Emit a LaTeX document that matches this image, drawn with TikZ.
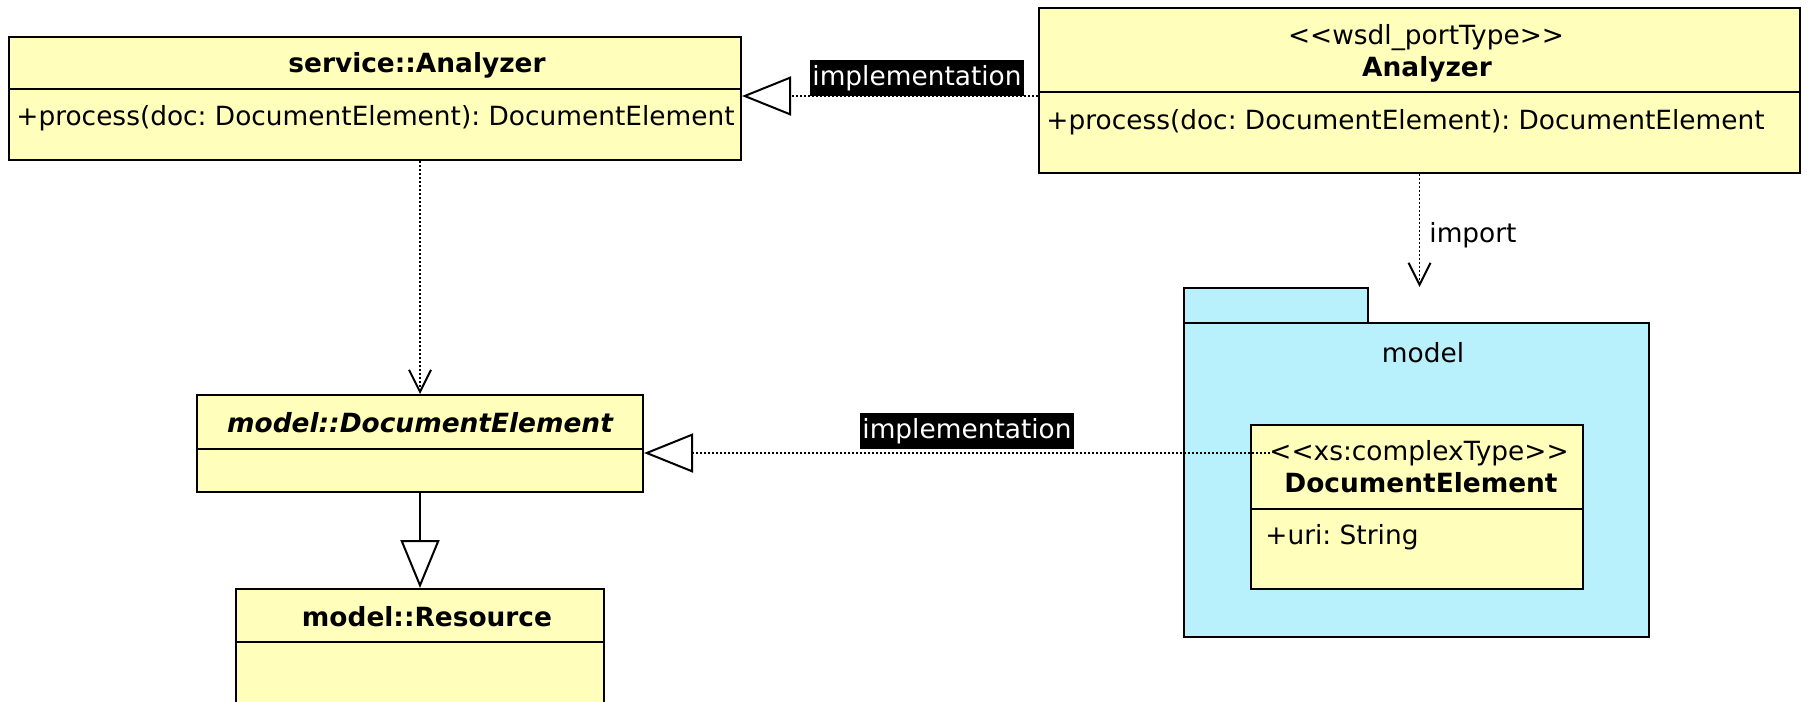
\documentclass[tikz,border=0pt]{standalone}
\usepackage{fontspec}
\setmainfont{DejaVu Sans}
\usetikzlibrary{arrows.meta,fit}

\definecolor{classfill}{HTML}{FFFFBB}
\definecolor{pkgfill}{HTML}{B8F0FC}

% stereotype brackets, kept apart so they are not joined into guillemets
\newcommand{\stl}{<\kern0pt<}
\newcommand{\str}{>\kern0pt>}
\newcommand{\umlfont}{\fontsize{13.2}{16}\selectfont\frenchspacing}

\tikzset{
  every node/.style={font=\umlfont, inner sep=0pt},
  border/.style={draw=black, line width=1pt},
  classbox/.style={border, fill=classfill, inner sep=0pt},
  pkgbox/.style={border, fill=pkgfill, inner sep=0pt},
  titletext/.style={font=\umlfont\bfseries},
  abstracttext/.style={font=\umlfont\bfseries\itshape},
  dotline/.style={line width=0.95pt, dash pattern=on 1pt off 1pt},
  depend/.style={dotline, -{Straight Barb[length=11pt,width=11pt,line width=1pt]}},
  realize/.style={dotline, -{Triangle[open,length=24.5pt,width=19.5pt,line width=1pt]}},
  general/.style={line width=1pt, -{Triangle[open,length=24pt,width=19.5pt,line width=1pt]}},
  taglabel/.style={fill=black, text=white, inner xsep=1pt, inner ysep=2.5pt}
}

\begin{document}
\begin{tikzpicture}[x=0.5pt, y=-0.5pt]
  \useasboundingbox (0,0) rectangle (1808,701);
  \fill[white] (0,0) rectangle (1808,701);
  \clip (0,0) rectangle (1808,701);

  % service::Analyzer
  \node[classbox, fit={(9,37) (741,160)}] (sa) {};
  \draw[border] (sa.west |- 0,89) -- (sa.east |- 0,89);
  \node[titletext] (satitle) at (417,65) {service::Analyzer};
  \node[anchor=west] (saop) at (16,118) {+process(doc: DocumentElement): DocumentElement};

  % <<wsdl_portType>> Analyzer
  \node[classbox, fit={(1039,8) (1800,173)}] (wa) {};
  \draw[border] (wa.west |- 0,92) -- (wa.east |- 0,92);
  \node (wastereo) at (1426,38) {\stl wsdl\_portType\str};
  \node[titletext] (watitle) at (1427,69) {Analyzer};
  \node[anchor=west] (waop) at (1046,122) {+process(doc: DocumentElement): DocumentElement};

  % model::DocumentElement
  \node[classbox, fit={(197,395) (643,492)}] (de) {};
  \draw[border] (de.west |- 0,449) -- (de.east |- 0,449);
  \node[abstracttext] (detitle) at (420,423) {model::DocumentElement};

  % model::Resource
  \node[classbox, fit={(236,589) (604,720)}] (res) {};
  \draw[border] (res.west |- 0,642) -- (res.east |- 0,642);
  \node[titletext] (restitle) at (427,617) {model::Resource};

  % package model
  \node[pkgbox, fit={(1184,288) (1368,323)}] (tab) {};
  \node[pkgbox, fit={(1184,323) (1649,637)}] (pkg) {};
  \node (pkgname) at (1423,353) {model};

  % <<xs:complexType>> DocumentElement
  \node[classbox, fit={(1251,425) (1583,589)}] (xs) {};
  \draw[border] (xs.west |- 0,509) -- (xs.east |- 0,509);
  \node (xsstereo) at (1419,453) {\stl xs:complexType\str};
  \node[titletext] (xstitle) at (1421,483) {DocumentElement};
  \node[anchor=west] (xsattr) at (1265,537) {+uri: String};

  % connectors
  \draw[depend] (de.north |- sa.south) -- (de.north);
  \draw[depend] (wa.south) -- (wa.south |- tab.north);
  \node[anchor=west] (importlbl) at (1429,235) {import};

  \draw[realize] (wa.west |- 0,96) -- (sa.east |- 0,96);
  \node[taglabel] (impl1) at (917,78) {implementation};

  \coordinate (xsend) at (1270,453);
  \draw[realize] (xsend) -- (de.east |- xsend);
  \node[taglabel] (impl2) at (967,431) {implementation};

  \draw[general] (de.south) -- (res.north);
\end{tikzpicture}
\end{document}
